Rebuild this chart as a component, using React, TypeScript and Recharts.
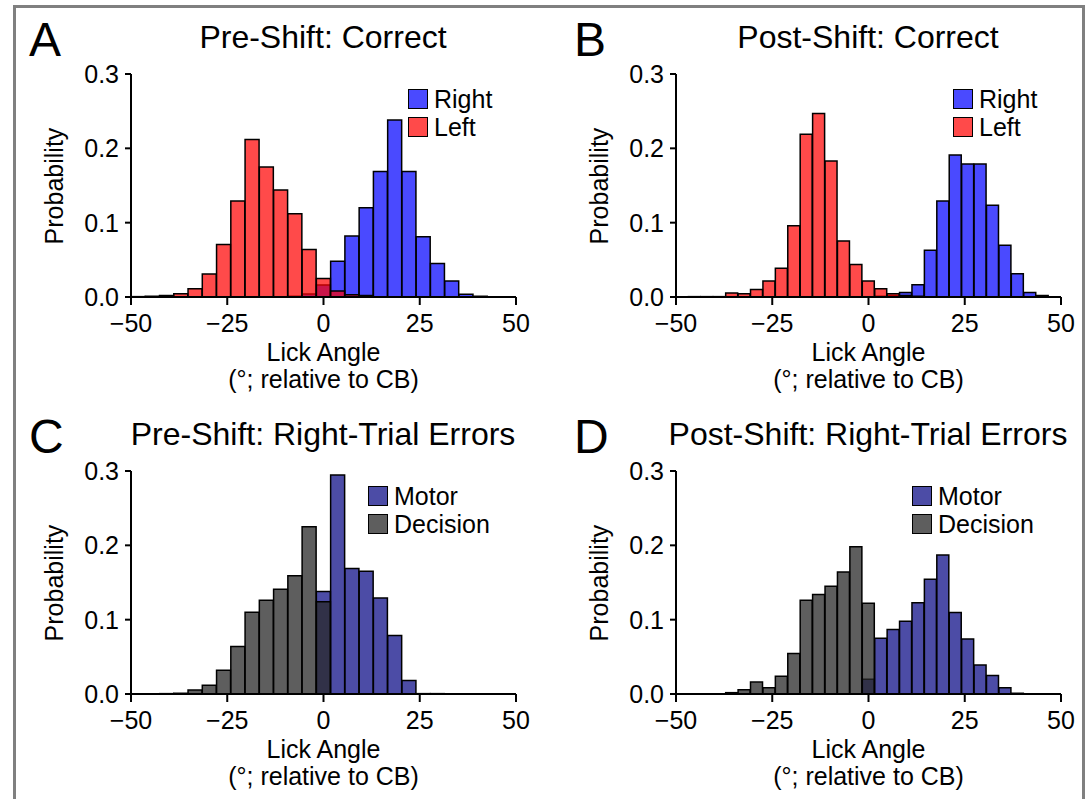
import { Bar, BarChart, XAxis, YAxis } from "recharts";

const FONT = '"Liberation Sans", Arial, Helvetica, sans-serif';

// histogram bins span -50..50; panels A/C use 27 bins, B/D use 31
const binCenters = (n: number) =>
  Array.from({ length: n }, (_, i) => -50 + (100 / n) * (i + 0.5));

const centers27 = binCenters(27);
const centers31 = binCenters(31);

const xTicks = [-50, -25, 0, 25, 50];
const yTicks = [0, 0.1, 0.2, 0.3];

// A: Pre-Shift, correct trials
const rightA = [
  0, 0, 0, 0, 0, 0, 0, 0, 0, 0, 0, 0.001, 0.004, 0.016, 0.048, 0.082, 0.12,
  0.169, 0.238, 0.169, 0.081, 0.045, 0.0215, 0.0036, 0.001, 0, 0,
];
const leftA = [
  0.0005, 0.001, 0.002, 0.0045, 0.011, 0.031, 0.0705, 0.129, 0.212, 0.175,
  0.144, 0.112, 0.064, 0.025, 0.008, 0.003, 0.002, 0, 0, 0, 0, 0, 0, 0, 0, 0, 0,
];

// B: Post-Shift, correct trials
const rightB = [
  0, 0, 0, 0, 0, 0, 0, 0, 0, 0, 0, 0, 0, 0, 0, 0, 0.001, 0.002, 0.006, 0.0166,
  0.063, 0.129, 0.191, 0.179, 0.179, 0.1235, 0.0696, 0.0314, 0.006, 0.002, 0,
];
const leftB = [
  0, 0.0005, 0.0005, 0.0005, 0.0054, 0.0045, 0.01, 0.0215, 0.0386, 0.0957,
  0.219, 0.247, 0.183, 0.0755, 0.0436, 0.0215, 0.011, 0.0045, 0.002, 0.001, 0,
  0, 0, 0, 0, 0, 0, 0, 0, 0, 0,
];

// C: Pre-Shift, right-trial errors
const motorC = [
  0, 0, 0, 0, 0, 0, 0, 0, 0, 0, 0, 0, 0, 0.138, 0.2946, 0.169, 0.165, 0.129,
  0.0786, 0.018, 0.0005, 0.0005, 0, 0, 0, 0, 0,
];
const decisionC = [
  0, 0.0005, 0.0005, 0.001, 0.0054, 0.0117, 0.032, 0.064, 0.11, 0.126, 0.141,
  0.159, 0.225, 0.124, 0, 0, 0, 0, 0, 0, 0, 0, 0, 0, 0, 0, 0,
];

// D: Post-Shift, right-trial errors
const motorD = [
  0, 0, 0, 0, 0, 0, 0, 0, 0, 0, 0, 0, 0, 0, 0, 0.02, 0.075, 0.0867, 0.098,
  0.1226, 0.1545, 0.187, 0.1096, 0.074, 0.039, 0.025, 0.0085, 0.001, 0, 0, 0,
];
const decisionD = [
  0, 0, 0, 0, 0.0018, 0.0058, 0.016, 0.0085, 0.024, 0.0545, 0.126, 0.134,
  0.145, 0.164, 0.198, 0.122, 0, 0, 0, 0, 0, 0, 0, 0, 0, 0, 0, 0, 0, 0, 0,
];

const BLUE = "rgba(0,0,255,0.71)";
const RED = "rgba(255,0,0,0.71)";
const MOTOR = "rgba(0,0,128,0.7)";
const DECISION = "rgba(40,40,40,0.75)";

const fmtX = (v: number) => (v < 0 ? `\u2212${-v}` : String(v));

type PanelProps = {
  letter: string;
  title: string;
  dx: number;
  dy: number;
  centers: number[];
  under: number[];
  over: number[];
  underName: string;
  overName: string;
  underColor: string;
  overColor: string;
  legendShift: number;
};

function Panel(p: PanelProps) {
  const rows = p.centers.map((x, i) => ({
    x,
    under: p.under[i],
    over: p.over[i],
  }));
  const tickStyle = { fill: "#000", fontSize: 25, fontFamily: FONT };

  return (
    <>
      <div
        style={{
          position: "absolute",
          left: 29 + p.dx,
          top: 16 + p.dy,
          fontSize: 48,
          lineHeight: "48px",
        }}
      >
        {p.letter}
      </div>
      <div
        style={{
          position: "absolute",
          left: 63 + p.dx,
          width: 520,
          top: 17 + p.dy,
          fontSize: 32,
          lineHeight: "40px",
          textAlign: "center",
          whiteSpace: "nowrap",
        }}
      >
        {p.title}
      </div>
      <div
        style={{
          position: "absolute",
          left: 54 - 80 + p.dx,
          top: 185.5 - 15 + p.dy,
          width: 160,
          height: 30,
          fontSize: 25,
          lineHeight: "30px",
          textAlign: "center",
          transform: "rotate(-90deg)",
        }}
      >
        Probability
      </div>
      <div
        style={{
          position: "absolute",
          left: 131 + p.dx,
          width: 385,
          top: 339 + p.dy,
          fontSize: 25,
          lineHeight: "27px",
          textAlign: "center",
          whiteSpace: "nowrap",
        }}
      >
        Lick Angle
        <br />
        (°; relative to CB)
      </div>
      <div
        style={{
          position: "absolute",
          left: 20 + p.dx,
          top: 60 + p.dy,
        }}
      >
        <BarChart
          width={516}
          height={337}
          data={rows}
          margin={{ top: 14, right: 20, bottom: 0, left: 0 }}
          barCategoryGap={0}
          barGap={0}
        >
          <XAxis
            xAxisId="main"
            type="number"
            dataKey="x"
            domain={[-50, 50]}
            ticks={xTicks}
            tickFormatter={fmtX}
            height={100}
            stroke="#000"
            strokeWidth={2}
            tickSize={8}
            tickMargin={9}
            tick={tickStyle}
          />
          <XAxis
            xAxisId="over"
            type="number"
            dataKey="x"
            domain={[-50, 50]}
            hide
          />
          <YAxis
            type="number"
            domain={[0, 0.3]}
            ticks={yTicks}
            tickFormatter={(v: number) => v.toFixed(1)}
            width={111}
            stroke="#000"
            strokeWidth={2}
            tickSize={6}
            tickMargin={6}
            tick={tickStyle}
          />
          <Bar
            xAxisId="main"
            dataKey="under"
            name={p.underName}
            fill={p.underColor}
            stroke="#000"
            strokeWidth={1.5}
            isAnimationActive={false}
          />
          <Bar
            xAxisId="over"
            dataKey="over"
            name={p.overName}
            fill={p.overColor}
            stroke="#000"
            strokeWidth={1.5}
            isAnimationActive={false}
          />
        </BarChart>
      </div>
      <div
        style={{
          position: "absolute",
          left: 408 + p.legendShift + p.dx,
          top: 85 + p.dy,
          fontSize: 25,
        }}
      >
        {[
          [p.underName, p.underColor],
          [p.overName, p.overColor],
        ].map(([name, color]) => (
          <div
            key={name}
            style={{ display: "flex", alignItems: "center", height: 28 }}
          >
            <div
              style={{
                width: 20,
                height: 20,
                boxSizing: "border-box",
                border: "1.5px solid #000",
                background: color,
                marginRight: 6,
              }}
            />
            <span style={{ lineHeight: "28px" }}>{name}</span>
          </div>
        ))}
      </div>
    </>
  );
}

export default function App() {
  return (
    <div
      style={{
        position: "absolute",
        left: 0,
        top: 0,
        width: 1091,
        height: 799,
        background: "#fff",
        overflow: "hidden",
        fontFamily: FONT,
        color: "#000",
      }}
    >
      <div
        style={{
          position: "absolute",
          left: 13,
          top: 5,
          width: 1072,
          height: 820,
          boxSizing: "border-box",
          border: "3px solid #808080",
        }}
      />
      <Panel
        letter="A"
        title="Pre-Shift: Correct"
        dx={0}
        dy={0}
        centers={centers27}
        under={rightA}
        over={leftA}
        underName="Right"
        overName="Left"
        underColor={BLUE}
        overColor={RED}
        legendShift={0}
      />
      <Panel
        letter="B"
        title="Post-Shift: Correct"
        dx={545}
        dy={0}
        centers={centers31}
        under={rightB}
        over={leftB}
        underName="Right"
        overName="Left"
        underColor={BLUE}
        overColor={RED}
        legendShift={0}
      />
      <Panel
        letter="C"
        title="Pre-Shift: Right-Trial Errors"
        dx={0}
        dy={397}
        centers={centers27}
        under={motorC}
        over={decisionC}
        underName="Motor"
        overName="Decision"
        underColor={MOTOR}
        overColor={DECISION}
        legendShift={-40}
      />
      <Panel
        letter="D"
        title="Post-Shift: Right-Trial Errors"
        dx={545}
        dy={397}
        centers={centers31}
        under={motorD}
        over={decisionD}
        underName="Motor"
        overName="Decision"
        underColor={MOTOR}
        overColor={DECISION}
        legendShift={-41}
      />
    </div>
  );
}
